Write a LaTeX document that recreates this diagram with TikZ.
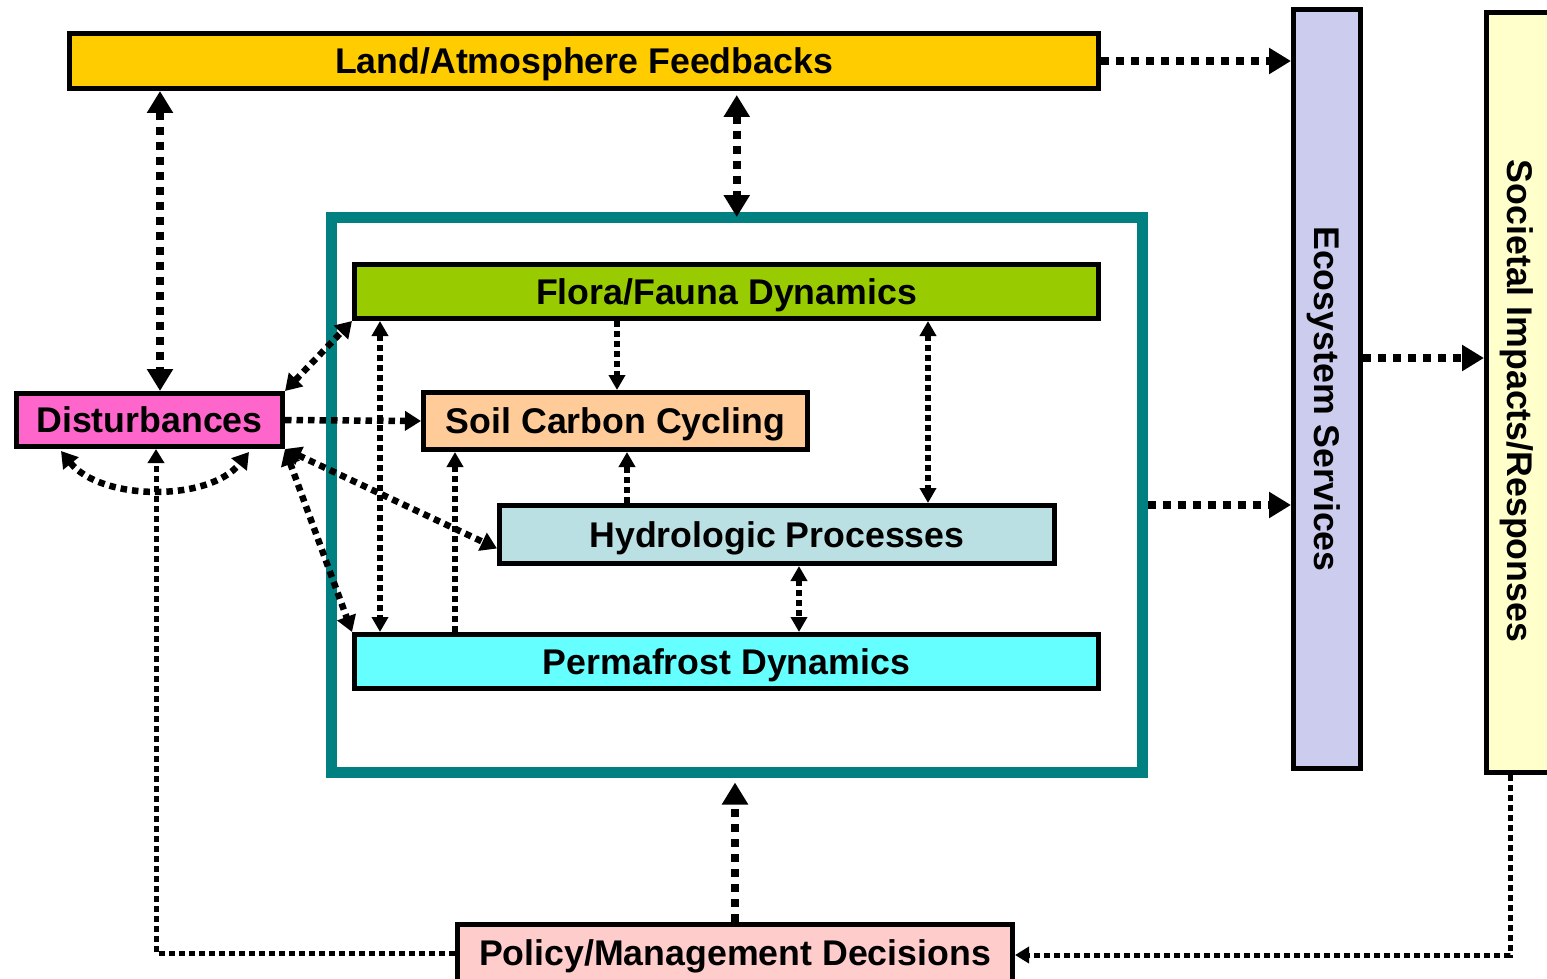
\documentclass[tikz,border=0pt]{standalone}
\usepackage{fontspec}
\setmainfont{Liberation Sans}
\usetikzlibrary{arrows.meta,calc}
\definecolor{landc}{HTML}{FFCC00}
\definecolor{florac}{HTML}{99CC00}
\definecolor{soilc}{HTML}{FFCC99}
\definecolor{hydroc}{HTML}{BBE0E3}
\definecolor{permac}{HTML}{66FFFF}
\definecolor{distc}{HTML}{FF66CC}
\definecolor{policyc}{HTML}{FFCCCC}
\definecolor{ecoc}{HTML}{CCCCEE}
\definecolor{socc}{HTML}{FFFFCC}
\definecolor{tealc}{HTML}{008080}
\tikzset{
  lbl/.style={inner sep=0pt, font=\bfseries\fontsize{35.7pt}{40pt}\selectfont, text height=25.5pt, text depth=0pt},
  box/.style={lbl, draw=black, line width=5pt},
  bigarr/.style={line width=7.5pt, dash pattern=on 8pt off 7pt, >={Triangle[length=22pt,width=25pt]}},
  midarr/.style={line width=6.5pt, dash pattern=on 6.5pt off 5pt, >={Triangle[length=16pt,width=19pt]}},
  smallarr/.style={line width=5.5pt, dash pattern=on 6pt off 4pt, >={Triangle[length=15pt,width=16pt]}},
  thinarr/.style={line width=5pt, dash pattern=on 6pt off 4pt, >={Triangle[length=14pt,width=16pt]}},
}
\begin{document}
\begin{tikzpicture}[x=1pt,y=-1pt]
\useasboundingbox (0,0) rectangle (1547,979);
\clip (0,0) rectangle (1547,979);
% system frame
\node[draw=tealc, line width=11pt, inner sep=0pt, minimum width=810.5pt, minimum height=554.5pt] (sys) at (736.75,494.75) {};
% boxes
\node[box, fill=landc, minimum width=1029pt, minimum height=55pt] (land) at (584,61) {Land/Atmosphere Feedbacks};
\node[box, fill=florac, minimum width=744pt, minimum height=54pt] (flora) at (726.5,291.5) {Flora/Fauna Dynamics};
\node[box, fill=soilc, minimum width=384pt, minimum height=57pt] (soil) at (615.5,421) {Soil Carbon Cycling};
\node[box, fill=hydroc, minimum width=555pt, minimum height=58pt] (hydro) at (777,534.5) {Hydrologic Processes};
\node[box, fill=permac, minimum width=744pt, minimum height=54pt] (perma) at (726.5,661.5) {Permafrost Dynamics};
\node[box, fill=distc, minimum width=266pt, minimum height=53pt] (dist) at (149.5,420) {Disturbances};
\node[box, fill=policyc, minimum width=555pt, minimum height=58pt] (policy) at (735,953) {Policy/Management Decisions};
\node[box, fill=ecoc, minimum width=67pt, minimum height=759pt] (eco) at (1327,389) {};
\node[box, fill=socc, minimum width=113pt, minimum height=760pt] (soc) at (1543,392.5) {};
\node[lbl, rotate=-90] (ecot) at (1327,399) {Ecosystem Services};
\node[lbl, rotate=-90] (soct) at (1520,401) {Societal Impacts/Responses};
% helper coordinates
\coordinate (xA) at (160,0);
\coordinate (xB) at (380,0);
\coordinate (xC) at (455,0);
\coordinate (xD) at (617,0);
\coordinate (xE) at (627,0);
\coordinate (xF) at (928,0);
\coordinate (xG) at (799,0);
\coordinate (xH) at (156,0);
\coordinate (xI) at (1510,0);
\coordinate (yA) at (0,505);
\coordinate (yB) at (0,358);
\coordinate (dl) at (61,451);
\coordinate (dr) at (249,452);
% big connectors
\draw[bigarr,<->] (land.south -| xA) -- (dist.north -| xA);
\draw[bigarr,<->,shorten <=4pt,shorten >=-5pt] (land.south -| sys.north) -- (sys.north);
\draw[bigarr,->] (land.east) -- (land.east -| eco.west);
\draw[bigarr,->] (sys.east |- yA) -- (eco.west |- yA);
\draw[bigarr,->] (eco.east |- yB) -- (soc.west |- yB);
\draw[bigarr,->,shorten >=5pt] (policy.north) -- (policy.north |- sys.south);
% thin outer loops
\draw[thinarr,->] (soc.south -| xI) |- ($(policy.east)+(0,2)$);
\draw[thinarr,->] (policy.west) -| (xH |- dist.south);
% disturbances
\draw[midarr,<->] (dist.north east) -- (flora.south west);
\draw[midarr,->] (dist.east) -- (soil.west);
\draw[midarr,<->] (dist.south east) -- ($(hydro.west)+(0,14)$);
\draw[midarr,<->] (dist.south east) -- (perma.north west);
\draw[midarr,<->] (dl) .. controls +(40,50) and +(-40,50) .. (dr);
% inner connectors
\draw[smallarr,<->] (flora.south -| xB) -- (perma.north -| xB);
\draw[smallarr,->] (perma.north -| xC) -- (soil.south -| xC);
\draw[smallarr,->] (flora.south -| xD) -- (soil.north -| xD);
\draw[smallarr,->] (hydro.north -| xE) -- (soil.south -| xE);
\draw[smallarr,<->] (flora.south -| xF) -- (hydro.north -| xF);
\draw[smallarr,<->] (hydro.south -| xG) -- (perma.north -| xG);
\end{tikzpicture}
\end{document}
